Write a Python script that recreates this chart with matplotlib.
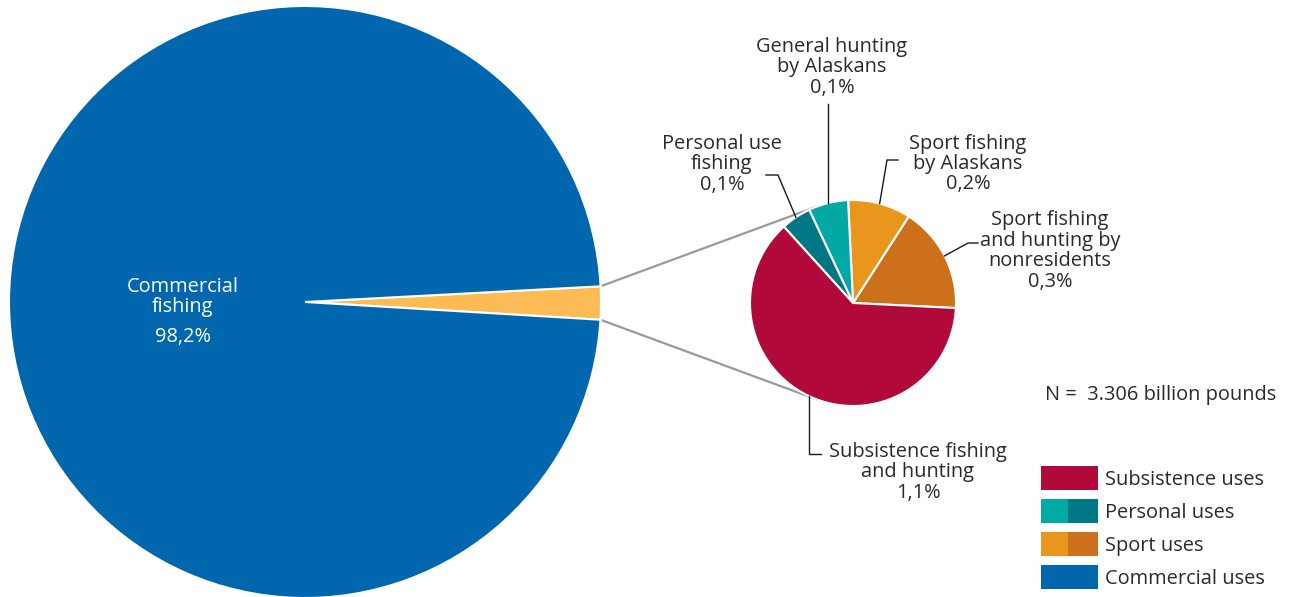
import numpy as np
import matplotlib
matplotlib.use("Agg")
import matplotlib.pyplot as plt
from matplotlib.patches import Rectangle

plt.rcParams['font.family'] = ['Open Sans', 'DejaVu Sans']

# ---------------- data ----------------
main_labels = ["Other uses", "Commercial fishing"]
main_values = [1.8, 98.2]                       # percent
main_colors = ["#FDBB56", "#0066AD"]

# small pie, counter-clockwise order (million pounds)
detail_names = ["Sport fishing\nand hunting by\nnonresidents", "Sport fishing\nby Alaskans",
                "General hunting\nby Alaskans", "Personal use\nfishing",
                "Subsistence fishing\nand hunting"]
detail_values = [9.9, 5.85, 3.7, 2.8, 37.1]
detail_pct = ["0,3%", "0,2%", "0,1%", "0,1%", "1,1%"]
detail_colors = ["#CD701C", "#E9961C", "#00A9A4", "#007784", "#B10A3A"]

legend_labels = ["Subsistence uses", "Personal uses", "Sport uses", "Commercial uses"]
legend_colors = [("#B10A3A", "#B10A3A"), ("#00A9A4", "#007784"),
                 ("#E9961C", "#CD701C"), ("#0066AD", "#0066AD")]

total_text = "N =  3.306 billion pounds"

# ---------------- layout ----------------
W, H = 1299, 597
fig = plt.figure(figsize=(W / 100, H / 100), dpi=100)
ax = fig.add_axes([0, 0, 1, 1])

def Y(y):
    return H - y

FS = 14.4
TXT = "#2a2a2a"
BASE = 7  # px from visual centre of capitals to baseline

def txt(x, y, s, **kw):
    ax.text(x, Y(y + BASE), s, va='baseline', fontsize=FS, **kw)

big_c = (305, Y(302)); big_r = 296
small_c = (853, Y(303)); small_r = 103

yellow_share = main_values[0] / sum(main_values) * 360
wb, _ = ax.pie(main_values, colors=main_colors, center=big_c, radius=big_r,
               startangle=-yellow_share / 2 - 0.2, counterclock=True,
               wedgeprops=dict(edgecolor="white", linewidth=1.5), frame=True)
ws, _ = ax.pie(detail_values, colors=detail_colors, center=small_c, radius=small_r,
               startangle=-2.8, counterclock=True,
               wedgeprops=dict(edgecolor="white", linewidth=1.5), frame=True)
ax.set_xlim(0, W)
ax.set_ylim(0, H)
ax.set_aspect('equal')
ax.axis('off')

# connector lines: tangents from the yellow wedge edges to the small pie
def tangent(p, c, r, upper):
    p = np.array(p, float); c = np.array(c, float)
    d = c - p
    dist = np.hypot(*d)
    base = np.arctan2(d[1], d[0])
    off = np.arcsin(r / dist)
    ang = base + off if upper else base - off
    L = np.sqrt(dist**2 - r**2)
    return p + L * np.array([np.cos(ang), np.sin(ang)])

y0 = wb[0]
for th, up in [(y0.theta2, True), (y0.theta1, False)]:
    p = (big_c[0] + big_r * np.cos(np.radians(th)), big_c[1] + big_r * np.sin(np.radians(th)))
    t = tangent(p, small_c, small_r, up)
    ax.plot([p[0], t[0]], [p[1], t[1]], color="#9A9A9A", lw=1.6, zorder=0.5,
            solid_capstyle='butt')

# leader lines and labels of small pie
def edge_point(w):
    a = np.radians((w.theta1 + w.theta2) / 2)
    return (small_c[0] + small_r * np.cos(a), small_c[1] + small_r * np.sin(a))

elbows = [
    [(968, 243), (978, 243)],
    [(887, 160), (898, 160)],
    [(None, 104)],
    [(778, 175), (766, 175)],
    [(None, 454), (821, 454)],
]
label_pos = [(1050, [218, 239, 259, 280]),
             (968, [142, 162, 182]),
             (832, [45, 65, 86]),
             (722, [142, 162, 183]),
             (918, [450, 470, 491])]

for w, el, (lx, lys), name, pct in zip(ws, elbows, label_pos, detail_names, detail_pct):
    e = edge_point(w)
    xs = [e[0]]; ys = [e[1]]
    for (ex, ey) in el:
        xs.append(xs[-1] if ex is None else ex)
        ys.append(Y(ey))
    ax.plot(xs, ys, color="#1a1a1a", lw=1.0, zorder=3)
    for line, ly in zip(name.split("\n") + [pct], lys):
        txt(lx, ly, line, ha='center', color=TXT)

# commercial label
for line, ly in zip(["Commercial", "fishing", "98,2%"], [285, 305, 335]):
    txt(183, ly, line, ha='center', color="white")

txt(1045, 393, total_text, ha='left', color=TXT)

# legend
for i, (lab, (c1, c2)) in enumerate(zip(legend_labels, legend_colors)):
    top = 466 + i * 33
    ax.add_patch(Rectangle((1041, Y(top + 24)), 27, 24, color=c1, lw=0))
    ax.add_patch(Rectangle((1068, Y(top + 24)), 30, 24, color=c2, lw=0))
    txt(1105, top + 12, lab, ha='left', color=TXT)

fig.savefig("out.png", dpi=100)
